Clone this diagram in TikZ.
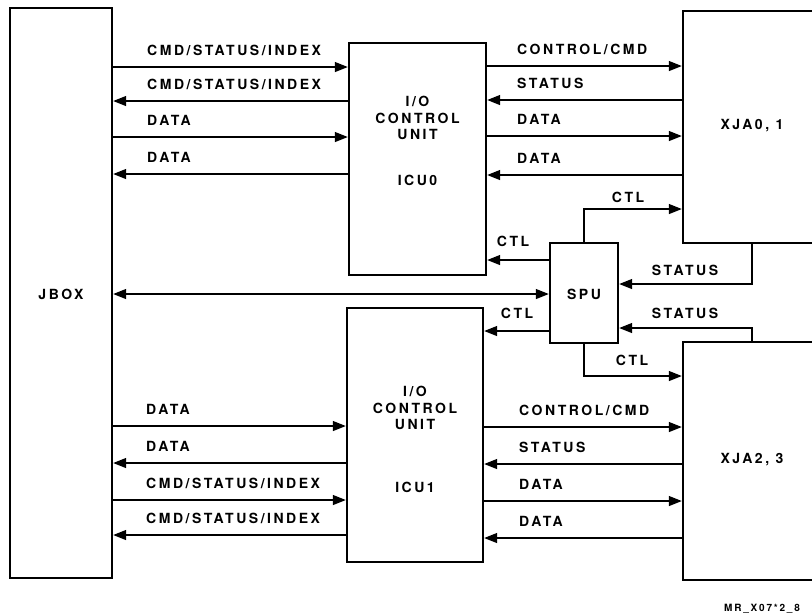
\documentclass[tikz,border=0pt]{standalone}
\usepackage{fontspec}
\setmainfont{TeX Gyre Heros}[LetterSpace=18]
\usetikzlibrary{arrows.meta}

\begin{document}
\begin{tikzpicture}[x=1pt, y=-1pt,
  unit/.style={draw, line width=2.4pt, inner sep=0pt},
  lbl/.style={font=\bfseries\fontsize{14}{16.5}\selectfont, inner sep=0pt},
  tag/.style={font=\bfseries\fontsize{10}{11}\selectfont, inner sep=0pt},
  bus/.style={line width=1.3pt},
  >={Triangle[length=13pt,width=10pt]}
]
\useasboundingbox (0,0) rectangle (812,614);

% Boxes
\node[unit, minimum width=102pt, minimum height=570pt] (jbox) at (61,293) {};
\node[unit, minimum width=137pt, minimum height=232pt] (icu0) at (417.5,159) {};
\node[unit, minimum width=136pt, minimum height=254pt] (icu1) at (415,435) {};
\node[unit, minimum width=138pt, minimum height=232pt] (xja0) at (752,127) {};
\node[unit, minimum width=138pt, minimum height=238pt] (xja2) at (752,461) {};
\node[unit, minimum width=68pt, minimum height=100pt] (spu) at (584,293) {};

% Box texts
\node[lbl] (jboxt) at (61,294) {JBOX};
\node[lbl] (sput) at (584,294) {SPU};
\node[lbl] (xja0t) at (752,126) {XJA0, 1};
\node[lbl] (xja2t) at (752,460) {XJA2, 3};
\node[lbl, align=center] (icu0t) at (417.5,118) {I/O\\CONTROL\\UNIT};
\node[lbl] (icu0n) at (417.5,180) {ICU0};
\node[lbl, align=center] (icu1t) at (415,408) {I/O\\CONTROL\\UNIT};
\node[lbl] (icu1n) at (415,487) {ICU1};

% JBOX <-> ICU0
\foreach \y/\dir/\txt in {67/->/{CMD/STATUS/INDEX}, 101/<-/{CMD/STATUS/INDEX},
                          137/->/DATA, 174/<-/DATA}{
  \draw[bus,\dir] (jbox.east |- 0,\y) -- (icu0.west |- 0,\y);
  \node[lbl, anchor=base west] (a\y) at (147,\y-12) {\txt};
}

% JBOX <-> ICU1
\foreach \y/\dir/\txt in {426/->/DATA, 463/<-/DATA,
                          500/->/{CMD/STATUS/INDEX}, 535/<-/{CMD/STATUS/INDEX}}{
  \draw[bus,\dir] (jbox.east |- 0,\y) -- (icu1.west |- 0,\y);
  \node[lbl, anchor=base west] (b\y) at (146,\y-12) {\txt};
}

% ICU0 <-> XJA0, 1
\foreach \y/\dir/\txt in {66/->/{CONTROL/CMD}, 100/<-/STATUS,
                          136/->/DATA, 175/<-/DATA}{
  \draw[bus,\dir] (icu0.east |- 0,\y) -- (xja0.west |- 0,\y);
  \node[lbl, anchor=base west] (c\y) at (517,\y-12) {\txt};
}

% ICU1 <-> XJA2, 3
\foreach \y/\dir/\txt in {427/->/{CONTROL/CMD}, 464/<-/STATUS,
                          501/->/DATA, 538/<-/DATA}{
  \draw[bus,\dir] (icu1.east |- 0,\y) -- (xja2.west |- 0,\y);
  \node[lbl, anchor=base west] (d\y) at (519,\y-12) {\txt};
}

% SPU links
\draw[bus,<->] (jbox.east |- 0,294) -- (spu.west |- 0,294);
\draw[bus,->] (spu.west |- 0,260) -- (icu0.east |- 0,260);
\node[lbl, anchor=base] (ctl0) at (513,246) {CTL};
\draw[bus,->] (spu.west |- 0,331) -- (icu1.east |- 0,331);
\node[lbl, anchor=base] (ctl1) at (517,318) {CTL};
\draw[bus,->] (spu.north) |- (xja0.west |- 0,209);
\node[lbl, anchor=base] (ctl2) at (628,202) {CTL};
\draw[bus,->] (spu.south) |- (xja2.west |- 0,376);
\node[lbl, anchor=base] (ctl3) at (632,365) {CTL};
\draw[bus,->] (xja0.south) |- (spu.east |- 0,284);
\node[lbl, anchor=base] (st0) at (685,275) {STATUS};
\draw[bus,->] (xja2.north) |- (spu.east |- 0,328);
\node[lbl, anchor=base] (st1) at (685,318) {STATUS};

\node[tag, anchor=base west] (ref) at (724,611) {MR\_X07*2\_8};

\end{tikzpicture}
\end{document}
